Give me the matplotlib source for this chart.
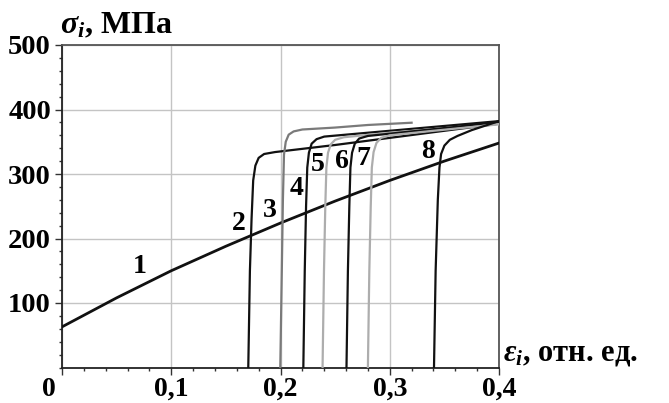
import matplotlib
matplotlib.use("Agg")
import matplotlib.pyplot as plt
import matplotlib.transforms as mtransforms
from matplotlib.ticker import MultipleLocator

# ---- data ----
x_ticks = [0.0, 0.1, 0.2, 0.3, 0.4]
x_tick_labels = ["0", "0,1", "0,2", "0,3", "0,4"]
y_ticks = [100, 200, 300, 400, 500]
y_tick_labels = ["100", "200", "300", "400", "500"]

c1_x = [0.0, 0.05, 0.10, 0.15, 0.20, 0.25, 0.30, 0.35, 0.40]
c1_y = [63, 108, 150, 188, 224, 258, 290, 320, 348]

c2_x = [0.1705, 0.172, 0.1735, 0.175, 0.177, 0.180, 0.185, 0.195, 0.25, 0.30, 0.35, 0.40]
c2_y = [0, 150, 230, 290, 313, 325, 331, 334, 345, 356, 367, 378]

c3_x = [0.1998, 0.2012, 0.2022, 0.2032, 0.2048, 0.2075, 0.212, 0.22, 0.25, 0.28, 0.32]
c3_y = [0, 150, 260, 330, 350, 361, 366, 369, 372, 376, 379.5]

c4_x = [0.2209, 0.2222, 0.2234, 0.2245, 0.226, 0.2285, 0.233, 0.24, 0.28, 0.34, 0.40]
c4_y = [0, 150, 250, 310, 333, 347, 354, 358, 364, 373, 382]

c5_x = [0.2385, 0.2398, 0.2410, 0.2420, 0.2435, 0.246, 0.250, 0.258, 0.30, 0.35, 0.40]
c5_y = [0, 150, 250, 310, 333, 346, 353, 357, 364, 371, 378]

c6_x = [0.2604, 0.2617, 0.2630, 0.2640, 0.2655, 0.268, 0.272, 0.28, 0.32, 0.36, 0.40]
c6_y = [0, 150, 250, 310, 333, 347, 355, 359, 366, 373, 381]

c7_x = [0.2800, 0.2813, 0.2826, 0.2836, 0.2852, 0.2878, 0.292, 0.30, 0.34, 0.40]
c7_y = [0, 150, 250, 310, 334, 348, 356, 360, 367, 377]

c8_x = [0.3405, 0.3420, 0.3440, 0.3455, 0.3470, 0.3500, 0.3550, 0.3620, 0.3750, 0.40]
c8_y = [0, 150, 260, 310, 331, 344, 353, 359, 368, 382]

curves = [
    (c1_x, c1_y, "#111111", 2.0),
    (c2_x, c2_y, "#111111", 1.6),
    (c3_x, c3_y, "#7a7a7a", 1.6),
    (c4_x, c4_y, "#111111", 1.6),
    (c5_x, c5_y, "#adadad", 1.6),
    (c6_x, c6_y, "#111111", 1.6),
    (c7_x, c7_y, "#adadad", 1.6),
    (c8_x, c8_y, "#111111", 1.6),
]

curve_labels = ["1", "2", "3", "4", "5", "6", "7", "8"]
label_x = [0.071, 0.162, 0.190, 0.215, 0.234, 0.256, 0.276, 0.335]
label_y = [156, 224, 244, 277, 314, 320, 324, 335]

# ---- figure ----
plt.rcParams["font.family"] = ["Liberation Serif", "DejaVu Serif"]
plt.rcParams["font.weight"] = "bold"
plt.rcParams["mathtext.fontset"] = "custom"
plt.rcParams["mathtext.it"] = "Liberation Serif:italic:bold"
plt.rcParams["mathtext.rm"] = "Liberation Serif:bold"

fig = plt.figure(figsize=(6.69, 4.03), dpi=100)
ax = fig.add_axes([62 / 669, 1 - 367.5 / 403, 437 / 669, 322.5 / 403])

ax.set_xlim(0, 0.4)
ax.set_ylim(0, 500)

ax.grid(True, which="major", color="#c4c4c4", linewidth=1.0)
ax.set_axisbelow(True)

for xs, ys, col, lw in curves:
    ax.plot(xs, ys, color=col, linewidth=lw, solid_joinstyle="round", zorder=3)

for t, lx, ly in zip(curve_labels, label_x, label_y):
    ax.text(lx, ly, t, fontsize=20, fontweight="bold", ha="center", va="center", zorder=4)

ax.set_xticks(x_ticks)
ax.set_xticklabels(x_tick_labels)
ax.set_yticks(y_ticks)
ax.set_yticklabels(y_tick_labels)
ax.xaxis.set_minor_locator(MultipleLocator(0.02))
ax.yaxis.set_minor_locator(MultipleLocator(20))
ax.tick_params(which="major", direction="out", length=5, width=1.0, color="#333333",
               labelsize=20.5, pad=3)
ax.tick_params(which="minor", direction="out", length=2.5, width=1.0, color="#333333")
ax.tick_params(axis="x", which="major", pad=1.5, labelsize=20)
for lbl in ax.get_xticklabels() + ax.get_yticklabels():
    lbl.set_fontweight("bold")

# shift origin label left
off = mtransforms.ScaledTranslation(-13 / 100, 0, fig.dpi_scale_trans)
first = ax.get_xticklabels()[0]
first.set_transform(first.get_transform() + off)

for s in ["left", "bottom"]:
    ax.spines[s].set_color("#222222")
    ax.spines[s].set_linewidth(1.3)
for s in ["top", "right"]:
    ax.spines[s].set_color("#555555")
    ax.spines[s].set_linewidth(1.3)

fig.text(60 / 669, 1 - 33 / 403, r"$\sigma_i$, МПа", fontsize=23, fontweight="bold",
         ha="left", va="baseline")
fig.text(503 / 669, 1 - 360 / 403, r"$\varepsilon_i$, отн. ед.", fontsize=22,
         fontweight="bold", ha="left", va="baseline")

fig.savefig("out.png", dpi=100)
